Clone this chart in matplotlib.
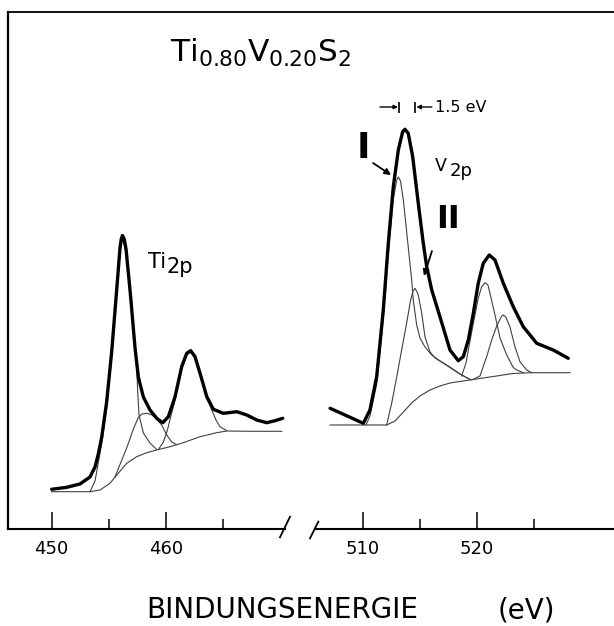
import matplotlib.pyplot as plt
from matplotlib.lines import Line2D

# ---- Ti 2p region (binding energy in eV, counts in arbitrary units) ----
ti_energy = [450.0, 451.32, 452.48, 453.36, 453.80, 454.09, 454.39, 454.82, 455.26,
             455.70, 455.99, 456.10, 456.21, 456.36, 456.52, 456.91, 457.31, 457.60,
             458.04, 458.62, 459.21, 459.74, 460.23, 460.82, 461.40, 461.84, 462.19,
             462.57, 463.01, 463.60, 464.18, 465.05, 466.23, 467.11, 467.98, 468.86,
             469.59, 470.26]
ti_counts = [39.7, 41.7, 45, 52, 62, 75, 92, 127, 177,
             239, 281, 290, 293.5, 290, 280, 234, 181, 152,
             132, 119, 110.7, 106.3, 112.3, 132.3, 162.3, 175.7, 178.3,
             172.3, 155.7, 132.3, 119.7, 115.7, 117.3, 114, 109, 106.3,
             108.3, 110.7]

ti_bg_energy = [450.0, 453.36, 454.24, 455.11, 455.84, 456.58, 457.46, 458.33, 459.21,
                460.38, 461.54, 463.01, 464.47, 465.35, 467.39, 470.18]
ti_bg_counts = [37.3, 37.3, 39, 45.7, 55.7, 65.7, 72.3, 76.3, 79,
                82.3, 86.3, 92.3, 96.3, 98, 97.7, 97.7]

# Ti 2p3/2 main line
ti_a_energy = [453.36, 453.80, 454.15, 454.39, 454.82, 455.26, 455.70, 455.99, 456.21,
               456.52, 456.91, 457.31, 457.46, 457.54, 457.66, 458.04, 458.62, 459.21]
ti_a_counts = [37.3, 48, 70, 86, 121, 172, 234, 277, 290,
               277, 231, 178, 160, 138, 114, 96, 86, 79.5]

# satellite of the 2p3/2 line
ti_b_energy = [455.55, 456.08, 456.61, 457.13, 457.60, 457.92, 458.33, 458.71, 459.06,
               459.65, 460.09, 460.53, 460.96]
ti_b_counts = [52, 67, 82, 99, 111.7, 115, 115.7, 114.5, 111.7,
               104, 94, 87, 84.3]

# Ti 2p1/2 line
ti_c_energy = [459.36, 459.80, 460.15, 460.41, 460.82, 461.40, 461.84, 462.19, 462.57,
               463.01, 463.60, 464.04, 464.41, 464.76, 465.35]
ti_c_counts = [79.6, 87, 99, 111, 129, 160, 174, 177, 171,
               154, 131, 119, 109, 102.3, 98.3]

# ---- V 2p region ----
v_energy = [507.11, 508.42, 510.03, 510.61, 511.20, 511.78, 512.22, 512.66, 513.10,
            513.48, 513.68, 513.97, 514.36, 514.85, 515.29, 515.59, 516.03, 516.75,
            517.63, 518.36, 518.80, 519.24, 519.68, 520.11, 520.55, 521.08, 521.58,
            522.31, 523.18, 524.06, 525.24, 526.69, 528.01]
v_counts = [120.7, 114, 105.7, 119, 152.3, 219, 285.7, 342.3, 379,
            397.3, 399.7, 395.7, 372.3, 325.7, 285.7, 262.3, 239, 212.3,
            179, 168.3, 172.3, 189, 215.7, 245.7, 265.7, 274, 269,
            245.7, 222.3, 202.3, 185.7, 179, 170.7]

v_bg_energy = [507.11, 512.08, 512.81, 513.54, 514.27, 515.00, 515.88, 516.75, 517.63,
               518.77, 519.65, 521.14, 523.16, 524.65, 528.16]
v_bg_counts = [104, 104, 108, 117, 126, 133, 139, 143, 146,
               148, 149.5, 152, 155.5, 156.3, 156.3]

# component I (V 2p3/2)
v_1_energy = [510.26, 510.61, 511.20, 511.78, 512.22, 512.66, 512.96, 513.10, 513.29,
              513.54, 513.97, 514.27, 514.41, 514.71, 515.00, 515.44, 516.03, 516.75,
              517.63, 518.51, 519.39]
v_1_counts = [104, 113, 145, 210, 275, 330, 349, 352, 348,
              329, 282, 249, 229, 204, 191, 182, 174, 168,
              162, 155, 149.5]

# component II (V 2p3/2, +1.5 eV)
v_2_energy = [512.08, 512.52, 512.96, 513.39, 513.83, 514.18, 514.39, 514.56, 514.74,
              514.85, 515.15, 515.44, 515.88, 516.32, 517.04, 517.81, 518.51, 519.39]
v_2_counts = [104, 126, 152, 179, 206, 229, 238, 240.7, 237,
              234, 216, 192, 177, 171, 166, 160, 155, 149.5]

# component I (V 2p1/2)
v_3_energy = [518.65, 519.04, 519.24, 519.68, 520.11, 520.41, 520.70, 520.96, 521.14,
              521.58, 522.02, 522.61, 523.18, 523.48, 524.06]
v_3_counts = [153, 166, 179, 205.7, 230.7, 242.3, 246.3, 244, 235.7,
              214, 191, 174, 161.5, 159, 156.3]

# component II (V 2p1/2)
v_4_energy = [519.54, 520.26, 520.85, 521.29, 521.73, 522.17, 522.32, 522.54, 522.89,
              523.33, 523.77, 524.36, 524.80]
v_4_counts = [149, 153, 172.3, 189, 203, 213, 214, 211.7, 202.3,
              182.3, 167.3, 159, 156.3]

# peak positions of the two V 2p3/2 components (splitting marker)
split_peaks = [513.15, 514.56]

W, H = 614, 626
fig = plt.figure(figsize=(W / 100, H / 100), dpi=100)


def rect(x0, x1, y0=12, y1=529):
    return [x0 / W, 1 - y1 / H, (x1 - x0) / W, (y1 - y0) / H]


ax_l = fig.add_axes(rect(8, 285))
ax_r = fig.add_axes(rect(315, 614))

ax_l.set_xlim(446.17, 470.46)
ax_r.set_xlim(505.79, 532.02)

thin = dict(color="0.25", lw=0.8)
thick = dict(color="black", lw=2.4, solid_joinstyle="round", solid_capstyle="round")

ax_l.plot(ti_bg_energy, ti_bg_counts, **thin)
ax_l.plot(ti_a_energy, ti_a_counts, **thin)
ax_l.plot(ti_b_energy, ti_b_counts, **thin)
ax_l.plot(ti_c_energy, ti_c_counts, **thin)
ax_l.plot(ti_energy, ti_counts, **thick)

ax_r.plot(v_bg_energy, v_bg_counts, **thin)
ax_r.plot(v_1_energy, v_1_counts, **thin)
ax_r.plot(v_2_energy, v_2_counts, **thin)
ax_r.plot(v_3_energy, v_3_counts, **thin)
ax_r.plot(v_4_energy, v_4_counts, **thin)
ax_r.plot(v_energy, v_counts, **thick)

for ax in (ax_l, ax_r):
    ax.set_ylim(0, 517)
    ax.set_yticks([])
    for s in ("top", "right", "left"):
        ax.spines[s].set_visible(False)
    ax.spines["bottom"].set_linewidth(1.5)
    ax.tick_params(axis="x", which="major", direction="in", length=12,
                   width=1.1, labelsize=13, pad=8)
    ax.tick_params(axis="x", which="minor", direction="in", length=7.5, width=1.1)
    ax.patch.set_visible(False)

ax_l.spines["left"].set_visible(True)
ax_l.spines["left"].set_linewidth(1.6)
ax_l.set_xticks([450, 460])
ax_l.set_xticks([455, 465], minor=True)
ax_r.set_xticks([510, 520])
ax_r.set_xticks([515, 525], minor=True)

# top frame line and axis break marks
fig.add_artist(Line2D([8 / W, 1], [1 - 12 / H] * 2, color="black", lw=1.3))
fig.add_artist(Line2D([280 / W, 290 / W], [1 - 537.3 / H, 1 - 516.7 / H], color="black", lw=1.3))
fig.add_artist(Line2D([310 / W, 318.3 / W], [1 - 538.3 / H, 1 - 521.7 / H], color="black", lw=1.3))

# labels
ax_l.text(460.38, 467, r"Ti$_{0.80}$V$_{0.20}$S$_2$", fontsize=22.5, va="baseline")
ax_l.text(458.47, 260.7, "Ti", fontsize=15, va="baseline")
ax_l.text(460.09, 255.7, "2p", fontsize=15, va="baseline")

ax_r.text(516.32, 358.3, "V", fontsize=12.5, va="baseline")
ax_r.text(517.63, 353, "2p", fontsize=13, va="baseline")

ax_r.text(510.03, 370.7, "I", fontsize=26, fontweight="bold", ha="center", va="baseline")
ax_r.text(517.46, 300.7, "II", fontsize=23, fontweight="bold", ha="center", va="baseline")

arrow = dict(arrowstyle="-|>", color="black", lw=1.3, shrinkA=0, shrinkB=0, mutation_scale=9)
ax_r.annotate("", xy=(512.46, 354), xytext=(510.88, 366), arrowprops=arrow)
ax_r.annotate("", xy=(515.35, 253), xytext=(516.05, 278), arrowprops=arrow)

small = dict(arrowstyle="-|>", color="black", lw=1.0, shrinkA=0, shrinkB=0, mutation_scale=6)
ax_r.annotate("", xy=(513.07, 422), xytext=(511.49, 422), arrowprops=small)
ax_r.annotate("", xy=(514.69, 422), xytext=(516.05, 422), arrowprops=small)
ax_r.vlines(split_peaks, 415.7, 427.3, color="black", lw=1.2)
ax_r.text(516.32, 416.7, "1.5 eV", fontsize=11.5, va="baseline")

fig.text(282.5 / W, 1 - 618.3 / H, "BINDUNGSENERGIE", fontsize=20, ha="center", va="baseline")
fig.text(526.5 / W, 1 - 618.3 / H, "(eV)", fontsize=20, ha="center", va="baseline")

fig.savefig("out.png", dpi=100, facecolor="white")
